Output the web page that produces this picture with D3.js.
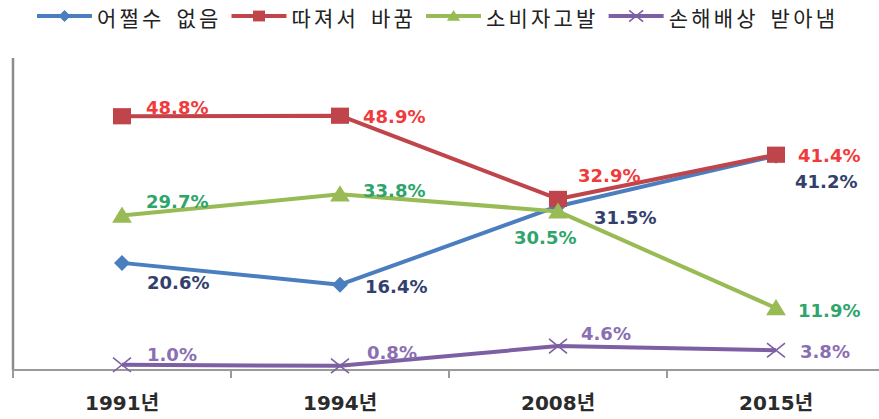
<!DOCTYPE html>
<html><head><meta charset="utf-8">
<script src="https://cdn.jsdelivr.net/npm/d3@7"></script>
<style>
html,body{margin:0;padding:0;background:#fff;}
svg{display:block;}
</style></head>
<body>
<svg id="chart" width="879" height="419"></svg>
<script>
// ---- data ----
const categories = ["1991년", "1994년", "2008년", "2015년"];
const seriesNames = ["어쩔수 없음", "따져서 바꿈", "소비자고발", "손해배상 받아냄"];
const valuesHelpless = [20.6, 16.4, 31.5, 41.2];
const valuesExchange = [48.8, 48.9, 32.9, 41.4];
const valuesComplaint = [29.7, 33.8, 30.5, 11.9];
const valuesCompensation = [1.0, 0.8, 4.6, 3.8];
const yDomain = [0, 60];

// ---- style / layout (not data) ----
const lineColors = ["#4A7EBF", "#C0454A", "#98BB55", "#7D5FA3"];
const labelColors = ["#34406C", "#F03A3C", "#2FA56C", "#8A6FB2"];
const markerTypes = ["diamond", "square", "triangle", "x"];
const labelOffsets = [
  [[25, 20], [25, 2], [36, 11], [19, 26]],
  [[24, -9], [23, 1], [20, -23], [22, 1]],
  [[24, -14], [23, -4], [-44, 26], [22, 2]],
  [[25, -10], [27, -13], [23, -13], [24, 1]]
];

const allSeries = [valuesHelpless, valuesExchange, valuesComplaint, valuesCompensation];
const svg = d3.select("#chart");

const x = d3.scaleBand().domain(categories).range([13, 885]).padding(0);
const y = d3.scaleLinear().domain(yDomain).range([370, 58]);
const cx = c => x(c) + x.bandwidth() / 2;

// y axis line
svg.append("line").attr("x1", 13).attr("x2", 13).attr("y1", y(yDomain[1])).attr("y2", y(0))
  .attr("stroke", "#8c8c8c").attr("stroke-width", 2.5);

// x axis with labels
const xAxis = svg.append("g").attr("transform", `translate(0,${y(0)})`)
  .call(d3.axisBottom(x).tickSize(0).tickPadding(0));
xAxis.select(".domain").remove();
xAxis.selectAll("text")
  .attr("y", 33)
  .attr("dy", "0.35em")
  .attr("fill", "#2b2b2b")
  .style("font-family", "'DejaVu Sans', 'Noto Sans CJK KR', sans-serif")
  .style("font-weight", "bold")
  .style("font-size", "20px");

svg.append("line").attr("x1", 13).attr("x2", 885).attr("y1", y(0)).attr("y2", y(0))
  .attr("stroke", "#9a9a9a").attr("stroke-width", 2);
// boundary ticks
svg.selectAll(".btick").data(categories.concat([null])).join("line")
  .attr("class", "btick")
  .attr("x1", (d, i) => i < categories.length ? x(d) : x(categories[categories.length - 1]) + x.bandwidth())
  .attr("x2", (d, i) => i < categories.length ? x(d) : x(categories[categories.length - 1]) + x.bandwidth())
  .attr("y1", y(0)).attr("y2", y(0) + 8)
  .attr("stroke", "#9a9a9a").attr("stroke-width", 2);

function drawMarker(g, type, color, px, py, s) {
  if (type === "diamond") {
    g.append("path").attr("d", `M${px},${py - s * 0.5}L${px + s * 0.5},${py}L${px},${py + s * 0.5}L${px - s * 0.5},${py}Z`)
      .attr("fill", color);
  } else if (type === "square") {
    g.append("rect").attr("x", px - s * 0.5).attr("y", py - s * 0.45).attr("width", s).attr("height", s * 0.9)
      .attr("fill", color);
  } else if (type === "triangle") {
    g.append("path").attr("d", `M${px},${py - s * 0.5}L${px + s * 0.55},${py + s * 0.4}L${px - s * 0.55},${py + s * 0.4}Z`)
      .attr("fill", color);
  } else {
    g.append("path").attr("d", `M${px - s * 0.5},${py - s * 0.4}L${px + s * 0.5},${py + s * 0.4}M${px - s * 0.5},${py + s * 0.4}L${px + s * 0.5},${py - s * 0.4}`)
      .attr("stroke", color).attr("stroke-width", 1.6).attr("fill", "none");
  }
}

const line = d3.line().x((d, i) => cx(categories[i])).y(d => y(d));
const markerSizes = [16, 18, 18, 18];

allSeries.forEach((vals, si) => {
  const g = svg.append("g");
  g.append("path").datum(vals).attr("d", line)
    .attr("fill", "none").attr("stroke", lineColors[si]).attr("stroke-width", 4).attr("stroke-linejoin", "round");
  vals.forEach((v, i) => drawMarker(g, markerTypes[si], lineColors[si], cx(categories[i]), y(v), markerSizes[si]));
});

// labels on top
allSeries.forEach((vals, si) => {
  svg.append("g").selectAll("text").data(vals).join("text")
    .attr("x", (d, i) => cx(categories[i]) + labelOffsets[si][i][0])
    .attr("y", (d, i) => y(d) + labelOffsets[si][i][1])
    .attr("dominant-baseline", "central")
    .attr("fill", labelColors[si])
    .style("font-family", "'DejaVu Sans', sans-serif")
    .style("font-weight", "bold")
    .style("font-size", "18px")
    .text(d => d.toFixed(1) + "%");
});

// legend
const legend = svg.append("g");
let lx = 37;
const ly = 16;
seriesNames.forEach((name, si) => {
  legend.append("line").attr("x1", lx).attr("x2", lx + 55).attr("y1", ly).attr("y2", ly)
    .attr("stroke", lineColors[si]).attr("stroke-width", 4);
  drawMarker(legend, markerTypes[si], lineColors[si], lx + 27.5, ly, si === 3 ? 14 : 12);
  const t = legend.append("text").attr("x", lx + 60).attr("y", ly + 1)
    .attr("dominant-baseline", "central")
    .attr("fill", "#222")
    .style("font-family", "'Noto Sans CJK KR', sans-serif")
    .style("font-size", "21px")
    .style("letter-spacing", "3.2px")
    .style("word-spacing", "4px")
    .text(name);
  lx = lx + 60 + t.node().getComputedTextLength() + 10;
});
</script>
</body></html>
